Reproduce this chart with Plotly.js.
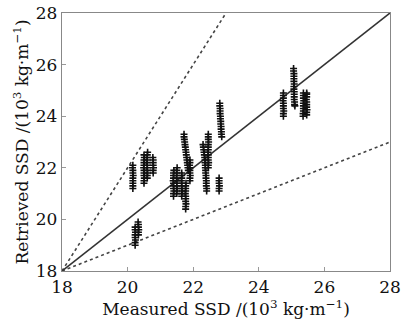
<!DOCTYPE html>
<html>
<head>
<meta charset="utf-8">
<script src="https://cdn.plot.ly/plotly-3.0.1.min.js"></script>
<style>html,body{margin:0;padding:0;background:#fff;}#chart{width:401px;height:325px;}</style>
</head>
<body>
<div id="chart"></div>
<script>
// Measured SSD (x) and retrieved SSD (y), 10^3 kg/m
const measured = [
  20.16,20.16,20.16,20.16,20.16,20.17,20.16,20.16,20.15,20.16,
  20.23,20.23,20.24,20.23,20.23,20.24,20.23,20.23,
  20.33,20.33,20.34,20.33,20.33,20.32,
  20.50,20.50,20.51,20.50,20.50,20.50,20.49,20.50,20.50,20.50,20.51,20.50,
  20.60,20.60,20.61,20.60,20.60,20.60,20.59,20.60,20.60,20.60,20.61,
  20.78,20.78,20.79,20.78,20.78,20.78,20.77,
  21.40,21.40,21.41,21.40,21.40,21.40,21.39,21.40,21.40,21.40,21.41,
  21.50,21.50,21.51,21.50,21.50,21.50,21.49,21.50,21.50,21.50,21.51,
  21.65,21.65,21.66,21.65,21.65,21.65,21.64,21.65,21.65,21.65,
  21.72,21.72,21.73,21.74,21.75,21.76,21.77,21.78,21.79,21.80,21.81,21.82,21.83,21.84,21.85,
  21.90,21.90,21.91,21.90,21.90,21.90,21.89,21.90,21.90,
  21.77,21.77,21.78,21.77,21.77,21.77,21.76,21.77,21.77,21.77,21.78,
  22.30,22.31,22.32,22.33,22.34,22.35,22.36,22.36,22.37,22.37,22.38,22.38,22.39,22.39,22.40,22.40,22.40,22.41,22.41,
  22.46,22.46,22.47,22.46,22.46,22.46,22.45,22.46,22.46,22.46,22.47,22.46,22.46,22.46,
  22.81,22.81,22.82,22.82,22.82,22.83,22.83,22.84,22.84,22.85,22.85,22.86,22.86,22.87,
  22.79,22.79,22.80,22.79,22.79,22.79,
  24.75,24.75,24.76,24.75,24.75,24.75,24.74,24.75,24.75,24.75,
  25.06,25.06,25.07,25.07,25.07,25.07,25.08,25.07,25.07,25.08,25.08,25.08,25.08,25.09,25.09,25.10,
  25.35,25.35,25.36,25.36,25.36,25.36,25.37,25.36,25.36,25.36,
  25.46,25.46,25.47,25.46,25.46,25.46,25.45,25.46,25.46,25.46
];
const retrieved = [
  21.20,21.30,21.40,21.50,21.60,21.70,21.80,21.90,22.00,22.10,
  19.00,19.10,19.20,19.30,19.40,19.50,19.60,19.70,
  19.40,19.50,19.60,19.70,19.80,19.90,
  21.40,21.50,21.60,21.70,21.80,21.90,22.00,22.10,22.20,22.30,22.40,22.50,
  21.60,21.70,21.80,21.90,22.00,22.10,22.20,22.30,22.40,22.50,22.60,
  21.80,21.90,22.00,22.10,22.20,22.30,22.40,
  20.90,21.00,21.10,21.20,21.30,21.40,21.50,21.60,21.70,21.80,21.90,
  21.00,21.10,21.20,21.30,21.40,21.50,21.60,21.70,21.80,21.90,22.00,
  20.90,21.00,21.10,21.20,21.30,21.40,21.50,21.60,21.70,21.80,
  23.30,23.20,23.10,23.00,22.90,22.80,22.70,22.60,22.50,22.40,22.30,22.20,22.10,22.00,21.90,
  21.50,21.60,21.70,21.80,21.90,22.00,22.10,22.20,22.30,
  20.40,20.50,20.60,20.70,20.80,20.90,21.00,21.10,21.20,21.30,21.40,
  22.90,22.80,22.70,22.60,22.50,22.40,22.30,22.20,22.10,22.00,21.90,21.80,21.70,21.60,21.50,21.40,21.30,21.20,21.10,
  22.00,22.10,22.20,22.30,22.40,22.50,22.60,22.70,22.80,22.90,23.00,23.10,23.20,23.30,
  24.50,24.40,24.30,24.20,24.10,24.00,23.90,23.80,23.70,23.60,23.50,23.40,23.30,23.20,
  21.10,21.20,21.30,21.40,21.50,21.60,
  24.00,24.10,24.20,24.30,24.40,24.50,24.60,24.70,24.80,24.90,
  25.85,25.75,25.65,25.55,25.45,25.35,25.25,25.15,25.05,24.95,24.85,24.75,24.65,24.55,24.45,24.40,
  24.00,24.10,24.20,24.30,24.40,24.50,24.60,24.70,24.80,24.90,
  24.05,24.15,24.25,24.35,24.45,24.55,24.65,24.75,24.85,24.90
];
// Reference lines: 1:1, 2:1 and 1:2 through (18,18)
const oneToOneX = [18, 28];
const oneToOneY = [18, 28];
const upperX = [18, 23];
const upperY = [18, 28];
const lowerX = [18, 28];
const lowerY = [18, 23];
const tickVals = [18, 20, 22, 24, 26, 28];

const serif = "DejaVu Serif, Liberation Serif, serif";
const traces = [
  {x: upperX, y: upperY, mode: 'lines', line: {color: '#444', width: 1.6, dash: 'dot'}, hoverinfo: 'skip'},
  {x: lowerX, y: lowerY, mode: 'lines', line: {color: '#444', width: 1.6, dash: 'dot'}, hoverinfo: 'skip'},
  {x: oneToOneX, y: oneToOneY, mode: 'lines', line: {color: '#333', width: 1.6}, hoverinfo: 'skip'},
  {x: measured, y: retrieved, mode: 'markers', type: 'scatter',
   marker: {symbol: 'cross-thin-open', size: 5, color: '#111', line: {color: '#111', width: 1.6}}}
];
const axisCommon = {
  range: [18, 28], tickvals: tickVals, ticks: 'inside', ticklen: 4, tickcolor: '#999',
  showline: true, linecolor: '#888', linewidth: 1.2, mirror: true, showgrid: false, zeroline: false,
  tickfont: {family: serif, size: 17, color: '#111'}
};
const layout = {
  width: 401, height: 325,
  margin: {l: 62, r: 11, t: 13, b: 54},
  showlegend: false,
  paper_bgcolor: '#fff', plot_bgcolor: '#fff',
  xaxis: Object.assign({}, axisCommon, {
    title: {text: 'Measured SSD /(10<sup>3</sup> kg·m<sup>−1</sup>)', font: {family: serif, size: 17, color: '#111'}, standoff: 0}
  }),
  yaxis: Object.assign({}, axisCommon, {
    title: {text: 'Retrieved SSD /(10<sup>3</sup> kg·m<sup>−1</sup>)', font: {family: serif, size: 17, color: '#111'}, standoff: 2}
  })
};
Plotly.newPlot('chart', traces, layout, {staticPlot: true, displayModeBar: false});
</script>
</body>
</html>
